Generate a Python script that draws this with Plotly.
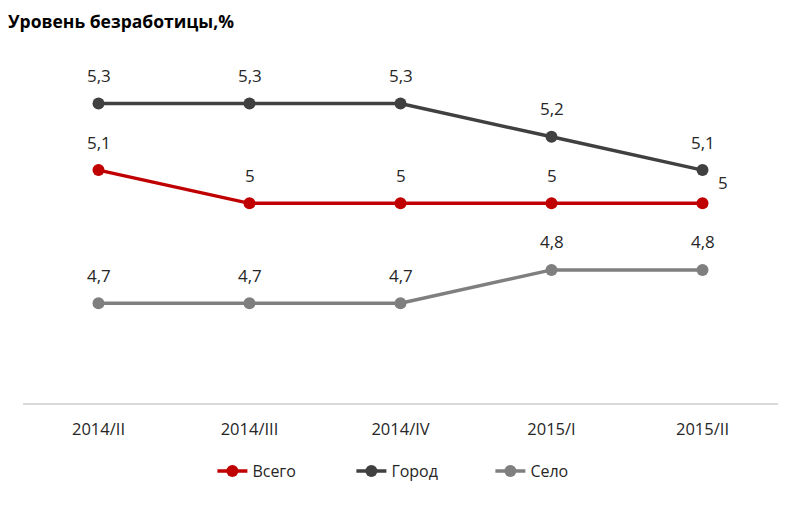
import plotly.graph_objects as go

categories = ["2014/II", "2014/III", "2014/IV", "2015/I", "2015/II"]
vsego = [5.1, 5.0, 5.0, 5.0, 5.0]
gorod = [5.3, 5.3, 5.3, 5.2, 5.1]
selo = [4.7, 4.7, 4.7, 4.8, 4.8]

series = [
    ("Всего", vsego, "#C00000", [(0, 28)] * 4 + [(20, 21)]),
    ("Город", gorod, "#404040", [(0, 28)] * 5),
    ("Село", selo, "#7F7F7F", [(0, 28)] * 5),
]

def fmt(v):
    return f"{v:g}".replace(".", ",")

fig = go.Figure()
for name, vals, color, shifts in series:
    fig.add_trace(go.Scatter(
        x=categories, y=vals, name=name, mode="lines+markers",
        line=dict(color=color, width=3.5),
        marker=dict(color=color, size=12),
        cliponaxis=False,
    ))
    for c, v, (dx, dy) in zip(categories, vals, shifts):
        fig.add_annotation(x=c, y=v, text=fmt(v), showarrow=False,
                           xshift=dx, yshift=dy,
                           font=dict(size=17, color="#262626", family="Open Sans"))

fig.update_layout(
    width=800, height=505,
    margin=dict(l=15, r=30, t=29, b=110),
    plot_bgcolor="white", paper_bgcolor="white",
    font=dict(family="Open Sans", size=13, color="#404040"),
    title=dict(text="<b>Уровень безработицы,%</b>", x=0, xanchor="left",
               y=0.972, yanchor="middle",
               font=dict(size=17.5, color="#000000", family="Open Sans")),
    showlegend=True,
    legend=dict(orientation="h", x=0.527, xanchor="center", y=-0.186, yanchor="middle",
                font=dict(size=16, color="#262626"), entrywidth=94,
                traceorder="normal"),
    xaxis=dict(type="category", range=[-0.5, 4.5], showgrid=False, zeroline=False,
               showline=True, linecolor="#D9D9D9", linewidth=1.5, ticks="",
               tickfont=dict(size=16.5, color="#262626"), ticklabelstandoff=10),
    yaxis=dict(range=[4.4, 5.5], visible=False, showgrid=False, zeroline=False),
)

fig.write_html("out.html")
